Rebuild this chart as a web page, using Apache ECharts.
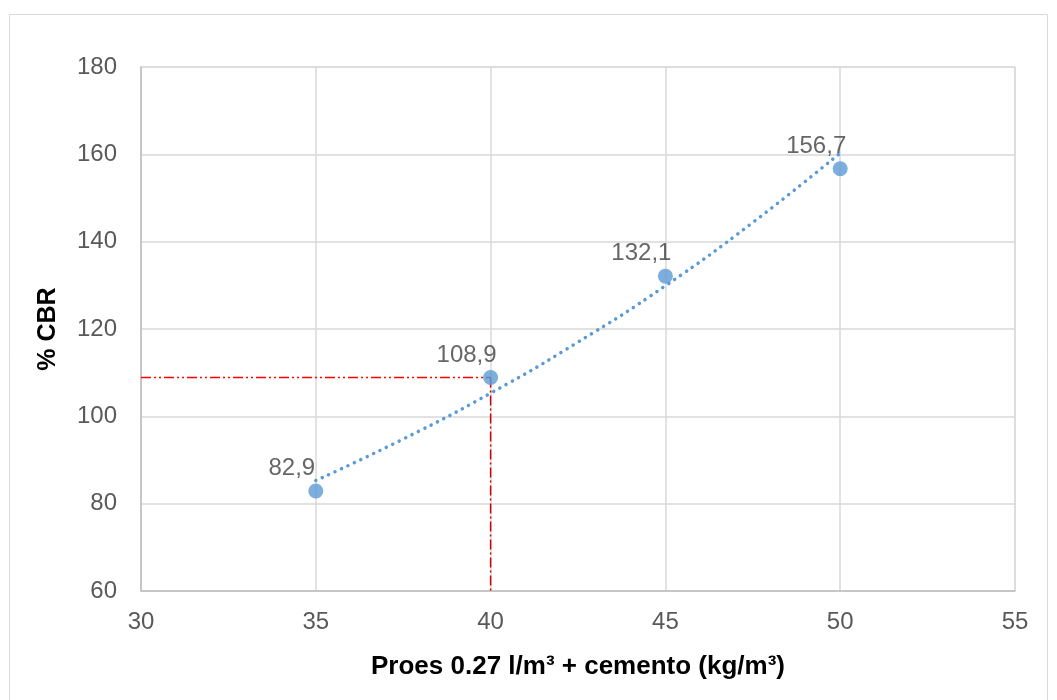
<!DOCTYPE html>
<html style="height: 100%; width: 100%;">
<head>
    <meta charset="utf-8">
    <title>% CBR vs Proes + cemento</title>
    <script src="https://cdn.jsdelivr.net/npm/echarts@6/dist/echarts.min.js"></script>
    <style>
        body, html {
            margin: 0;
            padding: 0;
            width: 100%;
            height: 100%;
            background: #fff;
        }
        #main {
            width: 1057px;
            height: 700px;
        }
    </style>
</head>
<body>
<div id="main"></div>
<script type="text/javascript">
    // measured points
    var dosage = [35, 40, 45, 50];
    var cbr = [82.9, 108.9, 132.1, 156.7];

    // dotted trend line
    var trendX = [35, 37.5, 40, 42.5, 45, 47.5, 50];
    var trendY = [85.3, 94.8, 105.3, 117.0, 129.9, 144.4, 160.3];

    // red guide at the design dosage
    var guideX = 40;
    var guideY = 108.9;

    var font = 'Liberation Sans, Arial, sans-serif';

    var chart = echarts.init(document.getElementById('main'));

    var option = {
        animation: false,
        textStyle: { fontFamily: font },
        graphic: [{
            type: 'rect',
            shape: { x: 9.5, y: 14.5, width: 1038, height: 700 },
            style: { fill: 'none', stroke: '#d9d9d9', lineWidth: 1 },
            silent: true
        }],
        grid: {
            left: 141, right: 42, top: 67, bottom: 109,
            show: true, borderColor: '#d9d9d9', borderWidth: 1
        },
        xAxis: {
            type: 'value',
            min: 30, max: 55, interval: 5,
            name: 'Proes 0.27 l/m³ + cemento (kg/m³)',
            nameLocation: 'middle',
            nameGap: 63,
            nameTextStyle: { fontSize: 26, fontWeight: 'bold', color: '#000', fontFamily: font },
            axisLine: { lineStyle: { color: '#bfbfbf', width: 1.5 } },
            axisTick: { show: false },
            axisLabel: { fontSize: 24, color: '#595959', margin: 19, fontFamily: font },
            splitLine: { lineStyle: { color: '#d9d9d9', width: 1.5 } }
        },
        yAxis: {
            type: 'value',
            min: 60, max: 180, interval: 20,
            name: '% CBR',
            nameLocation: 'middle',
            nameGap: 80,
            nameTextStyle: { fontSize: 25, fontWeight: 'bold', color: '#000', fontFamily: font },
            axisLine: { show: true, lineStyle: { color: '#bfbfbf', width: 1.5 } },
            axisTick: { show: false },
            axisLabel: { fontSize: 24, color: '#595959', margin: 24, fontFamily: font },
            splitLine: { lineStyle: { color: '#d9d9d9', width: 1.5 } }
        },
        series: [
            {
                type: 'line',
                data: [[30, guideY], [guideX, guideY]],
                symbol: 'none',
                lineStyle: { color: '#ff0000', width: 1.5, type: [10, 3, 2, 3, 2, 3] },
                z: 3
            },
            {
                type: 'line',
                data: [[guideX, guideY], [guideX, 60]],
                symbol: 'none',
                lineStyle: { color: '#d00000', width: 1.5, type: [10, 3, 2, 3] },
                z: 3
            },
            {
                type: 'line',
                data: trendX.map(function (x, i) { return [x, trendY[i]]; }),
                smooth: true,
                symbol: 'none',
                lineStyle: { color: '#5b9bd5', width: 3.5, type: [0.1, 7], cap: 'round' },
                z: 4
            },
            {
                type: 'scatter',
                data: dosage.map(function (x, i) { return [x, cbr[i]]; }),
                symbolSize: 15,
                itemStyle: { color: '#5b9bd5' },
                label: {
                    show: true,
                    position: 'top',
                    offset: [-24, 2],
                    fontSize: 24,
                    color: '#404040',
                    fontFamily: font,
                    formatter: function (p) { return p.value[1].toFixed(1).replace('.', ','); }
                },
                z: 5
            }
        ]
    };

    chart.setOption(option);
</script>
</body>
</html>
